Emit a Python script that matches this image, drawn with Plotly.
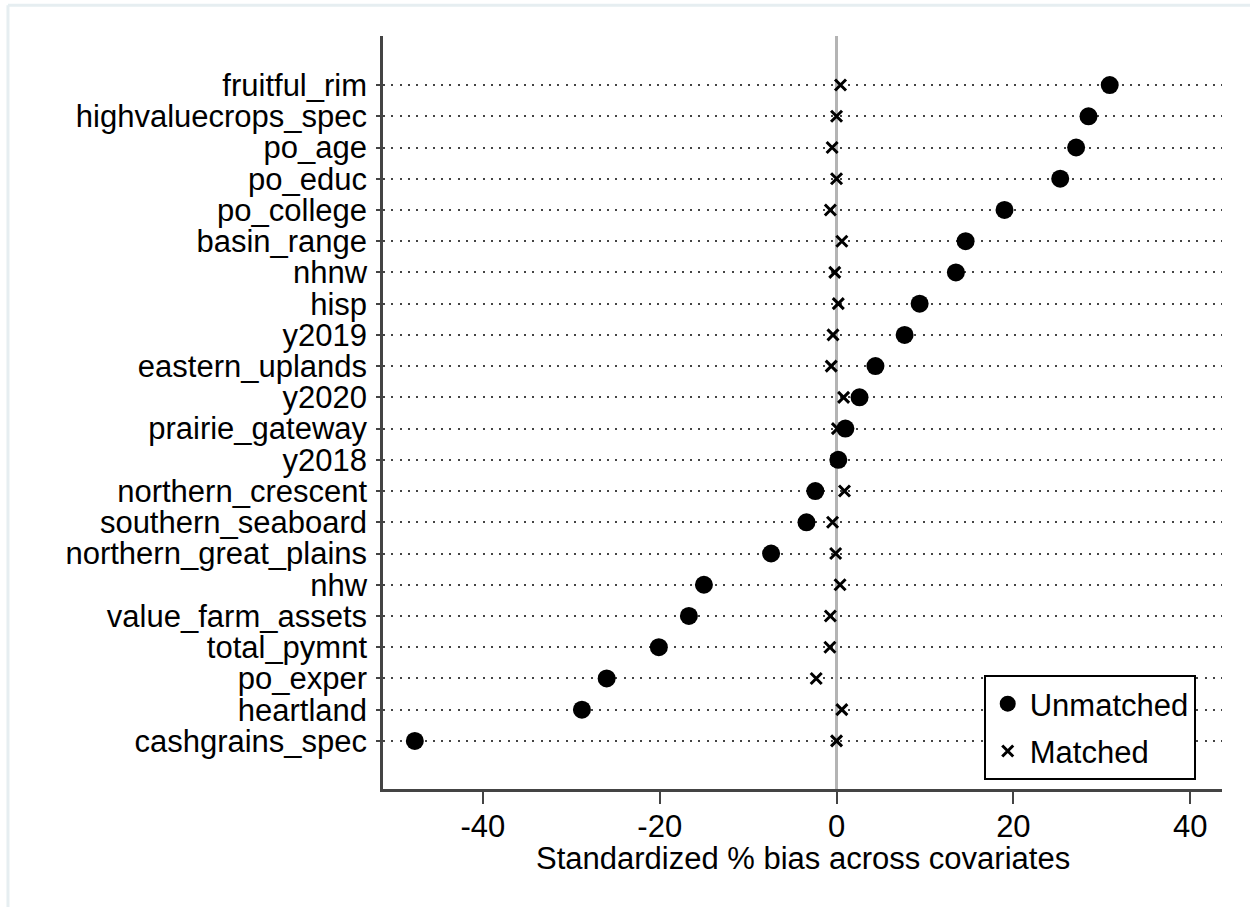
import plotly.graph_objects as go

# Covariates, top to bottom as shown
covariates = [
    "fruitful_rim", "highvaluecrops_spec", "po_age", "po_educ", "po_college",
    "basin_range", "nhnw", "hisp", "y2019", "eastern_uplands", "y2020",
    "prairie_gateway", "y2018", "northern_crescent", "southern_seaboard",
    "northern_great_plains", "nhw", "value_farm_assets", "total_pymnt",
    "po_exper", "heartland", "cashgrains_spec",
]
unmatched = [30.9, 28.5, 27.1, 25.3, 19.0, 14.6, 13.5, 9.4, 7.7, 4.4, 2.6,
             1.0, 0.2, -2.4, -3.4, -7.4, -15.0, -16.7, -20.1, -26.0, -28.8, -47.7]
matched = [0.45, 0.0, -0.5, 0.0, -0.7, 0.6, -0.2, 0.2, -0.4, -0.6, 0.8,
           0.1, 0.0, 0.9, -0.45, -0.1, 0.4, -0.7, -0.75, -2.3, 0.6, 0.0]
x_ticks = [-40, -20, 0, 20, 40]
x_title = "Standardized % bias across covariates"

n = len(covariates)
ypos = [n - i for i in range(n)]  # top row highest

FONT = "Liberation Sans, Arial, sans-serif"
FS = 31

fig = go.Figure()
fig.add_trace(go.Scatter(
    x=matched, y=ypos, mode="markers", name="Matched",
    legendrank=2, legendgroup="m",
    marker=dict(symbol="x-thin", size=11, color="black",
                line=dict(color="black", width=3)),
))
fig.add_trace(go.Scatter(
    x=unmatched, y=ypos, mode="markers", name="Unmatched",
    legendrank=1, legendgroup="u",
    marker=dict(symbol="circle", size=18, color="black", line=dict(width=0)),
))

fig.update_layout(
    width=1250, height=907,
    margin=dict(l=383, r=28, t=36, b=118, autoexpand=False),
    paper_bgcolor="white", plot_bgcolor="white",
    font=dict(family=FONT, size=FS, color="black"),
    showlegend=True,
    legend=dict(
        x=0.716, y=0.1514, xanchor="left", yanchor="top",
        bgcolor="white", bordercolor="black", borderwidth=2,
        font=dict(size=FS, color="black"),
        traceorder="grouped", tracegroupgap=4,
        itemwidth=34,
    ),
    xaxis=dict(
        range=[-51.3, 43.6],
        tickvals=x_ticks, ticktext=[str(v) for v in x_ticks],
        ticks="outside", ticklen=12, tickwidth=2, tickcolor="#444",
        showline=True, linecolor="#444", linewidth=2.5,
        showgrid=False,
        zeroline=True, zerolinecolor="#b4b4b4", zerolinewidth=3,
        automargin=False, ticklabelstandoff=-4,
    ),
    yaxis=dict(
        range=[-0.54, n + 1.57],
        tickvals=ypos, ticktext=covariates,
        ticks="outside", ticklen=4, tickwidth=1.5, tickcolor="#444",
        showline=True, linecolor="#444", linewidth=2.5,
        showgrid=True, gridcolor="#444", gridwidth=2, griddash="2px,6.3px",
        zeroline=False,
        automargin=False, ticklabelstandoff=3,
    ),
)

# x-axis title placed as in the reference
fig.add_annotation(text=x_title, xref="paper", yref="paper",
                   x=0.5, y=-0.092, xanchor="center", yanchor="middle",
                   showarrow=False, font=dict(size=FS, color="black"))

# faint page frame seen in the reference
fig.add_shape(type="line", xref="paper", yref="paper",
              x0=-0.447, x1=-0.447, y0=1.041, y1=-0.16,
              line=dict(color="#e6eef1", width=3), layer="below")
fig.add_shape(type="line", xref="paper", yref="paper",
              x0=-0.447, x1=1.04, y0=1.041, y1=1.041,
              line=dict(color="#e6eef1", width=3), layer="below")

fig.write_html("out.html")
